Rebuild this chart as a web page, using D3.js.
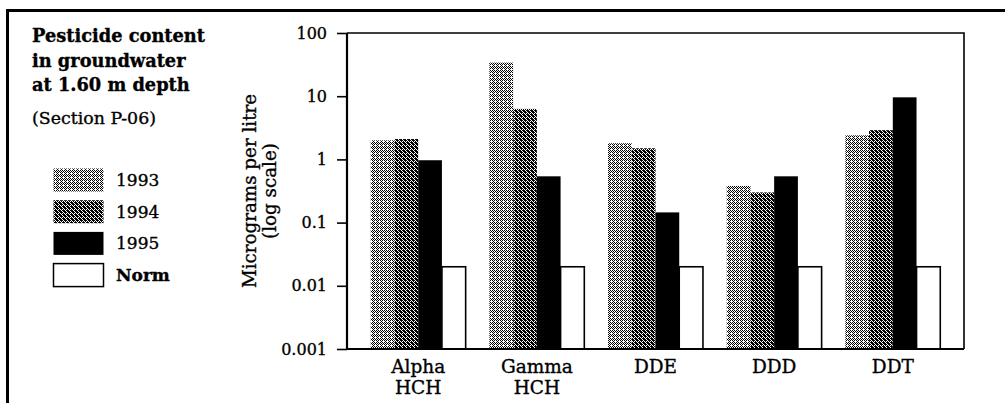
<!DOCTYPE html>
<html>
<head>
<meta charset="utf-8">
<script src="https://cdn.jsdelivr.net/npm/d3@7"></script>
<style>
  html, body { margin: 0; padding: 0; background: #fff; }
  svg { display: block; font-family: "DejaVu Serif", serif; }
  svg text { stroke: #000; stroke-width: 0.35px; }
</style>
</head>
<body>
<div id="chart"></div>
<script>
// data
const categories = ["Alpha HCH", "Gamma HCH", "DDE", "DDD", "DDT"];
const categoryLines = [["Alpha", "HCH"], ["Gamma", "HCH"], ["DDE"], ["DDD"], ["DDT"]];
const seriesNames = ["1993", "1994", "1995", "Norm"];
const values1993 = [2.0, 34, 1.8, 0.38, 2.4];
const values1994 = [2.1, 6.3, 1.5, 0.3, 2.9];
const values1995 = [0.97, 0.54, 0.145, 0.54, 9.6];
const valuesNorm = [0.02, 0.02, 0.02, 0.02, 0.02];
const yTicks = [0.001, 0.01, 0.1, 1, 10, 100];
const yTickLabels = ["0.001", "0.01", "0.1", "1", "10", "100"];
const titleLines = ["Pesticide content", "in groundwater", "at 1.60 m depth"];
const subtitle = "(Section P-06)";
const yTitleLines = ["Micrograms per litre", "(log scale)"];

const seriesValues = [values1993, values1994, values1995, valuesNorm];

const width = 1005, height = 403;
const plot = { left: 347, right: 964, top: 33, bottom: 349 };

const svg = d3.select("#chart").append("svg")
  .attr("width", width)
  .attr("height", height);

// halftone-ish fills
const defs = svg.append("defs");
function dotPattern(id, size, cells) {
  const p = defs.append("pattern")
    .attr("id", id)
    .attr("patternUnits", "userSpaceOnUse")
    .attr("width", size).attr("height", size);
  p.append("rect").attr("width", size).attr("height", size).attr("fill", "#fff");
  cells.forEach(([cx, cy]) => {
    p.append("rect").attr("x", cx).attr("y", cy)
      .attr("width", 1).attr("height", 1)
      .attr("fill", "#000").attr("shape-rendering", "crispEdges");
  });
  return `url(#${id})`;
}
const fill1993 = dotPattern("p93", 4, [[0,0],[2,0],[1,1],[0,2],[2,2],[3,3],[1,3]]);
const fill1994 = dotPattern("p94", 4, [[0,0],[2,0],[1,1],[3,1],[0,2],[2,2],[1,3],[3,3],[1,0],[3,2],[0,3]]);
const fills = [fill1993, fill1994, "#000", "#fff"];

// outer border (cropped on right & bottom)
svg.append("path")
  .attr("d", `M7.5,${height + 5}V10.5H${width + 5}`)
  .attr("fill", "none").attr("stroke", "#000").attr("stroke-width", 3);

// title block
const title = svg.append("g").attr("font-weight", "bold").attr("font-size", 17.8);
titleLines.forEach((t, i) => {
  title.append("text").attr("x", 32).attr("y", 42 + i * 24.5).text(t);
});
svg.append("text").attr("x", 32).attr("y", 124).attr("font-size", 17.4).text(subtitle);

// legend
const legend = svg.append("g");
seriesNames.forEach((name, i) => {
  const gy = 168 + i * 31.7;
  legend.append("rect")
    .attr("x", 53.5).attr("y", gy + 0.5)
    .attr("width", 50).attr("height", 23)
    .attr("fill", fills[i])
    .attr("stroke", i === 3 ? "#000" : "none")
    .attr("stroke-width", 1.5);
  legend.append("text")
    .attr("x", 116).attr("y", gy + 18)
    .attr("font-size", 17)
    .attr("font-weight", i === 3 ? "bold" : "normal")
    .text(name);
});

// scales
const x = d3.scaleBand().domain(categories)
  .range([plot.left, plot.right]).paddingInner(0.2).paddingOuter(0.2);
const xs = d3.scaleBand().domain(seriesNames).range([0, x.bandwidth()]);
const y = d3.scaleLog().domain([0.001, 100]).range([plot.bottom, plot.top]);

// bars
seriesNames.forEach((name, si) => {
  svg.append("g").selectAll("rect")
    .data(seriesValues[si])
    .join("rect")
    .attr("x", (d, i) => x(categories[i]) + xs(name))
    .attr("y", d => y(d))
    .attr("width", xs.bandwidth())
    .attr("height", d => y(0.001) - y(d))
    .attr("fill", fills[si])
    .attr("stroke", si === 3 ? "#000" : "none")
    .attr("stroke-width", 1.6);
});

// frame
svg.append("path")
  .attr("d", `M${plot.left},${plot.top}H${plot.right}V${plot.bottom}`)
  .attr("fill", "none").attr("stroke", "#000").attr("stroke-width", 1.6);
svg.append("path")
  .attr("d", `M${plot.left},${plot.top}V${plot.bottom}H${plot.right}`)
  .attr("fill", "none").attr("stroke", "#000").attr("stroke-width", 2.2);

// y axis
const yAxis = svg.append("g")
  .attr("transform", `translate(${plot.left},0)`)
  .call(d3.axisLeft(y).tickValues(yTicks)
    .tickFormat((d, i) => yTickLabels[i]).tickSize(10).tickPadding(10));
yAxis.select(".domain").remove();
yAxis.selectAll(".tick line").attr("stroke", "#000").attr("stroke-width", 1.6);
yAxis.selectAll(".tick text")
  .attr("font-family", "DejaVu Serif, serif")
  .attr("font-size", 16).attr("fill", "#000");

// y title
const yTitle = svg.append("text")
  .attr("transform", `translate(0,${(plot.top + plot.bottom) / 2}) rotate(-90)`)
  .attr("text-anchor", "middle").attr("font-size", 18.3);
yTitleLines.forEach((t, i) => {
  yTitle.append("tspan").attr("x", 0).attr("y", 256 + i * 20).text(t);
});

// category labels
const xl = svg.append("g").attr("font-size", 18.5).attr("text-anchor", "middle");
categories.forEach((c, i) => {
  const cx = x(c) + x.bandwidth() / 2;
  categoryLines[i].forEach((line, li) => {
    xl.append("text").attr("x", cx).attr("y", 373 + li * 21).text(line);
  });
});
</script>
</body>
</html>
